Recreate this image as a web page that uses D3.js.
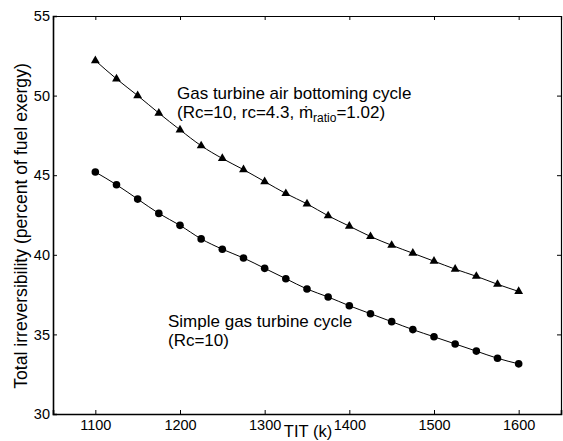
<!DOCTYPE html>
<html>
<head>
<meta charset="utf-8">
<script src="https://cdn.jsdelivr.net/npm/d3@7"></script>
<style>
  body { margin: 0; background: #fff; }
  text { font-family: Arial, "Liberation Sans", sans-serif; fill: #000; }
</style>
</head>
<body>
<script>
// turbine inlet temperature (K)
const tit = [1100, 1125, 1150, 1175, 1200, 1225, 1250, 1275, 1300, 1325, 1350,
             1375, 1400, 1425, 1450, 1475, 1500, 1525, 1550, 1575, 1600];

// total irreversibility, percent of fuel exergy
const airBottoming = [52.2, 51.05, 50.0, 48.9, 47.85, 46.85, 46.05, 45.35, 44.6, 43.85, 43.2,
                      42.45, 41.8, 41.15, 40.6, 40.1, 39.6, 39.1, 38.65, 38.15, 37.7];
const simpleCycle = [45.2, 44.4, 43.5, 42.6, 41.85, 41.0, 40.35, 39.8, 39.15, 38.5, 37.85,
                     37.35, 36.8, 36.3, 35.8, 35.3, 34.85, 34.4, 33.95, 33.5, 33.15];

const xTicks = [1100, 1200, 1300, 1400, 1500, 1600];
const yTicks = [30, 35, 40, 45, 50, 55];

const width = 563;
const height = 441;
const margin = {top: 16, right: 2, bottom: 27, left: 53};

const svg = d3.select('body').append('svg')
  .attr('width', width)
  .attr('height', height);

const x = d3.scaleLinear()
  .domain([1050, 1650])
  .range([margin.left, width - margin.right]);

const y = d3.scaleLinear()
  .domain([30, 55])
  .range([height - margin.bottom, margin.top]);

// axes, ticks point inward
svg.append('g')
  .attr('transform', `translate(0,${y(30)})`)
  .call(d3.axisBottom(x).tickValues(xTicks).tickSize(-4).tickPadding(6).tickFormat(d3.format('d')))
  .call(g => g.select('.domain').attr('stroke-width', 1.6))
  .call(g => g.selectAll('text').attr('font-size', 14.5).attr('font-family', null));

svg.append('g')
  .attr('transform', `translate(0,${y(55)})`)
  .call(d3.axisTop(x).tickValues(xTicks).tickSize(-4).tickFormat(''))
  .call(g => g.select('.domain').attr('stroke-width', 1.2));

svg.append('g')
  .attr('transform', `translate(${x(1050)},0)`)
  .call(d3.axisLeft(y).tickValues(yTicks).tickSize(-4).tickPadding(3))
  .call(g => g.select('.domain').attr('stroke-width', 1.6))
  .call(g => g.selectAll('text').attr('font-size', 14.5).attr('font-family', null));

svg.append('g')
  .attr('transform', `translate(${x(1650)},0)`)
  .call(d3.axisRight(y).tickValues(yTicks).tickSize(-4).tickFormat(''))
  .call(g => g.select('.domain').attr('stroke-width', 1.2));

// axis titles
svg.append('text')
  .attr('x', 308)
  .attr('y', 437)
  .attr('text-anchor', 'middle')
  .attr('font-size', 16.5)
  .text('TIT (k)');

svg.append('text')
  .attr('transform', 'translate(27,226) rotate(-90)')
  .attr('text-anchor', 'middle')
  .attr('font-size', 17.6)
  .text('Total irreversibility (percent of fuel exergy)');

// series
const line = d3.line()
  .x((d, i) => x(tit[i]))
  .y(d => y(d))
  .curve(d3.curveMonotoneX);

[airBottoming, simpleCycle].forEach(s => {
  svg.append('path')
    .datum(s)
    .attr('d', line)
    .attr('fill', 'none')
    .attr('stroke', '#000')
    .attr('stroke-width', 1);
});

svg.append('g')
  .selectAll('path')
  .data(airBottoming)
  .enter()
  .append('path')
  .attr('transform', (d, i) => `translate(${x(tit[i])},${y(d)})`)
  .attr('d', d3.symbol(d3.symbolTriangle, 34))
  .attr('fill', '#000');

svg.append('g')
  .selectAll('circle')
  .data(simpleCycle)
  .enter()
  .append('circle')
  .attr('cx', (d, i) => x(tit[i]))
  .attr('cy', d => y(d))
  .attr('r', 3.8)
  .attr('fill', '#000');

// annotations
svg.append('text')
  .attr('x', 177)
  .attr('y', 99)
  .attr('font-size', 17)
  .text('Gas turbine air bottoming cycle');

const t2 = svg.append('text')
  .attr('x', 177)
  .attr('y', 118)
  .attr('font-size', 17);
t2.append('tspan').text('(Rc=10, rc=4.3, \u1e41');
t2.append('tspan').attr('font-size', 12).attr('dy', 4).text('ratio');
t2.append('tspan').attr('dy', -4).text('=1.02)');

svg.append('text')
  .attr('x', 168)
  .attr('y', 327)
  .attr('font-size', 17)
  .text('Simple gas turbine cycle');

svg.append('text')
  .attr('x', 168)
  .attr('y', 346)
  .attr('font-size', 17)
  .text('(Rc=10)');
</script>
</body>
</html>
